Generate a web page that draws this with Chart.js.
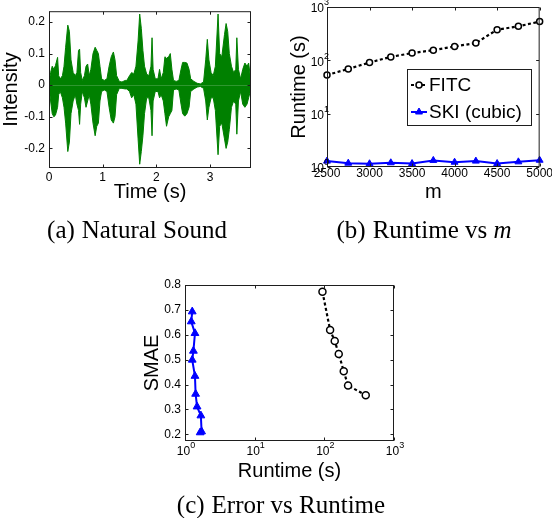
<!DOCTYPE html>
<html>
<head>
<meta charset="utf-8">
<script src="https://cdn.jsdelivr.net/npm/chart.js@4.4.1/dist/chart.umd.min.js"></script>
<style>
body { margin: 0; background: #fff; }
#wrap { position: relative; width: 552px; height: 518px; overflow: hidden; }
canvas { position: absolute; left: 0; top: 0; }
.cap { position: absolute; font-family: "Liberation Serif", serif; font-size: 25px; white-space: nowrap; transform: translate(-50%, -50%); color: #000; }
.cap span { margin-left: 7px; }
</style>
</head>
<body>
<div id="wrap">
  <canvas id="chartA" width="552" height="518"></canvas>
  <canvas id="chartB" width="552" height="518"></canvas>
  <canvas id="chartC" width="552" height="518"></canvas>
  <div class="cap" style="left:137px;top:230px">(a)<span>Natural Sound</span></div>
  <div class="cap" style="left:424px;top:230px">(b)<span>Runtime vs <i>m</i></span></div>
  <div class="cap" style="left:281px;top:505px">(c)<span>Error vs Runtime</span></div>
</div>
<script>
// (a) sound envelope
const soundTime = [0.00,0.03,0.06,0.09,0.12,0.16,0.18,0.21,0.25,0.28,
  0.31,0.35,0.38,0.41,0.45,0.49,0.52,0.55,0.57,0.59,
  0.62,0.66,0.69,0.72,0.75,0.78,0.82,0.86,0.89,0.92,
  0.95,0.98,1.03,1.08,1.12,1.16,1.20,1.23,1.26,1.31,
  1.36,1.42,1.45,1.50,1.54,1.58,1.62,1.66,1.69,1.72,
  1.75,1.78,1.82,1.86,1.90,1.92,1.94,1.98,2.03,2.06,
  2.09,2.13,2.16,2.19,2.23,2.26,2.29,2.32,2.37,2.42,
  2.46,2.49,2.53,2.57,2.61,2.64,2.70,2.76,2.82,2.88,
  2.92,2.95,2.98,3.02,3.06,3.10,3.15,3.18,3.22,3.27,
  3.30,3.33,3.36,3.40,3.44,3.48,3.50,3.53,3.57,3.61,
  3.65,3.69,3.72,3.75];
const soundUpper = [0.005,0.04,0.06,0.05,0.062,0.088,0.03,0.02,0.03,0.06,
  0.12,0.19,0.17,0.08,0.04,0.03,0.04,0.11,0.114,0.04,
  0.015,0.03,0.06,0.067,0.03,0.05,0.10,0.12,0.11,0.10,
  0.06,0.02,0.015,0.02,0.06,0.09,0.105,0.08,0.03,0.012,
  0.01,0.015,0.015,0.03,0.04,0.035,0.06,0.14,0.225,0.18,
  0.11,0.06,0.035,0.03,0.06,0.15,0.05,0.02,0.02,0.05,
  0.02,0.04,0.09,0.085,0.09,0.10,0.05,0.015,0.012,0.015,
  0.05,0.072,0.072,0.07,0.05,0.02,0.012,0.006,0.004,0.01,
  0.08,0.145,0.08,0.04,0.03,0.06,0.225,0.10,0.09,0.16,
  0.195,0.17,0.10,0.06,0.04,0.05,0.15,0.05,0.02,0.05,
  0.07,0.06,0.07,0.03];
const soundLower = [-0.005,-0.05,-0.09,-0.10,-0.095,-0.07,-0.03,-0.02,-0.04,-0.07,
  -0.12,-0.21,-0.18,-0.09,-0.05,-0.03,-0.06,-0.08,-0.124,-0.06,
  -0.02,-0.04,-0.07,-0.05,-0.03,-0.06,-0.12,-0.16,-0.13,-0.12,
  -0.05,-0.02,-0.015,-0.02,-0.07,-0.11,-0.12,-0.10,-0.03,-0.01,
  -0.01,-0.012,-0.012,-0.02,-0.04,-0.03,-0.06,-0.17,-0.25,-0.21,
  -0.16,-0.09,-0.04,-0.04,-0.08,-0.16,-0.05,-0.02,-0.02,-0.04,
  -0.03,-0.05,-0.09,-0.13,-0.10,-0.09,-0.08,-0.015,-0.012,-0.015,
  -0.06,-0.09,-0.098,-0.09,-0.07,-0.02,-0.012,-0.006,-0.004,-0.01,
  -0.05,-0.11,-0.07,-0.04,-0.04,-0.08,-0.22,-0.13,-0.12,-0.17,
  -0.20,-0.18,-0.14,-0.07,-0.05,-0.06,-0.155,-0.05,-0.02,-0.06,
  -0.07,-0.06,-0.04,-0.02];

// (b) runtime vs m
const mValues = [2500,2750,3000,3250,3500,3750,4000,4250,4500,4750,5000];
const fitcRuntime = [53,69,91,116,137,155,182,211,376,434,533];
const skiRuntime = [1.29,1.18,1.15,1.20,1.16,1.33,1.23,1.29,1.16,1.25,1.34];

// (c) error vs runtime
const fitcErrTime = [94,121,141,161,190,219,393];
const fitcSmae = [0.773,0.619,0.575,0.523,0.453,0.396,0.357];
const skiErrTime = [1.27,1.23,1.39,1.32,1.27,1.39,1.42,1.49,1.69,1.73,1.65];
const skiSmae = [0.693,0.653,0.606,0.535,0.499,0.434,0.362,0.311,0.275,0.211,0.207];

const logTicks = [1,10,100,1000];
const sans = '"Liberation Sans", Arial, sans-serif';

function pairs(xs, ys) { return xs.map((v, i) => ({x: v, y: ys[i]})); }

function drawPow(ctx, x, y, exp, mode) {
  ctx.font = '12px ' + sans;
  const wb = ctx.measureText('10').width;
  ctx.font = '9px ' + sans;
  const we = ctx.measureText(exp).width;
  const left = mode === 'right' ? x - wb : x - (wb + we) / 2;
  ctx.textAlign = 'left';
  ctx.textBaseline = 'middle';
  ctx.fillStyle = '#000';
  ctx.font = '12px ' + sans;
  ctx.fillText('10', left, y);
  ctx.font = '9px ' + sans;
  ctx.fillText(exp, left + wb, y - 6);
}

// matlab-like box, inward ticks, power labels, axis titles
const framePlugin = {
  id: 'frame',
  afterDraw(chart, args, o) {
    const ctx = chart.ctx, a = chart.chartArea, xs = chart.scales.x, ys = chart.scales.y;
    const L = a.left + 0.5, R = a.right - 0.5, T = a.top + 0.5, B = a.bottom - 0.5;
    ctx.save();
    ctx.strokeStyle = '#1e1e1e';
    ctx.lineWidth = 1;
    ctx.beginPath();
    xs.ticks.forEach(t => {
      const p = Math.round(xs.getPixelForValue(t.value)) + 0.5;
      ctx.moveTo(p, B); ctx.lineTo(p, B - 3);
      ctx.moveTo(p, T); ctx.lineTo(p, T + 3);
    });
    ys.ticks.forEach(t => {
      const p = Math.round(ys.getPixelForValue(t.value)) + 0.5;
      ctx.moveTo(L, p); ctx.lineTo(L + 3, p);
      ctx.moveTo(R, p); ctx.lineTo(R - 3, p);
    });
    ctx.stroke();
    ctx.strokeRect(L, T, R - L, B - T);

    if (o.logY) {
      ys.ticks.forEach(t => drawPow(ctx, a.left - 3, ys.getPixelForValue(t.value) + 2, String(Math.round(Math.log10(t.value))), 'right'));
    }
    if (o.logX) {
      xs.ticks.forEach(t => drawPow(ctx, xs.getPixelForValue(t.value) + 1, a.bottom + 11, String(Math.round(Math.log10(t.value))), 'center'));
    }

    ctx.fillStyle = '#000';
    ctx.font = '20px ' + sans;
    ctx.textAlign = 'center';
    ctx.textBaseline = 'middle';
    ctx.fillText(o.xTitle, (a.left + a.right) / 2, o.xTitleY);
    ctx.translate(o.yTitleX, (a.top + a.bottom) / 2);
    ctx.rotate(-Math.PI / 2);
    ctx.fillText(o.yTitle, 0, 0);
    ctx.restore();
  }
};

// legend box drawn inside the plot of (b)
const boxLegend = {
  id: 'boxLegend',
  afterDraw(chart, args, o) {
    if (!o.show) return;
    const ctx = chart.ctx;
    ctx.save();
    ctx.fillStyle = '#fff';
    ctx.strokeStyle = '#1e1e1e';
    ctx.lineWidth = 1;
    ctx.fillRect(o.x, o.y, o.w, o.h);
    ctx.strokeRect(o.x + 0.5, o.y + 0.5, o.w, o.h);
    chart.data.datasets.forEach((ds, i) => {
      const yy = o.rows[i];
      ctx.save();
      ctx.strokeStyle = ds.borderColor;
      ctx.lineWidth = ds.borderWidth;
      ctx.setLineDash(ds.borderDash || []);
      ctx.beginPath();
      ctx.moveTo(o.x + 4, yy);
      ctx.lineTo(o.x + 20, yy);
      ctx.stroke();
      ctx.restore();
      ctx.fillStyle = ds.pointBackgroundColor;
      ctx.strokeStyle = ds.borderColor;
      ctx.lineWidth = ds.pointBorderWidth;
      Chart.helpers.drawPoint(ctx, {pointStyle: ds.pointStyle, radius: ds.pointRadius, rotation: 0, borderWidth: ds.pointBorderWidth}, o.x + 12, yy);
      ctx.fillStyle = '#000';
      ctx.font = '19px ' + sans;
      ctx.textAlign = 'left';
      ctx.textBaseline = 'middle';
      ctx.fillText(ds.label, o.x + 22, yy + 1);
    });
    ctx.restore();
  }
};

// fixed axis sizes so the plot boxes land where the reference has them
function fitH(h) { return s => { s.height = h; }; }
function fitW(w) { return s => { s.width = w; }; }
const tickFont = {family: sans, size: 12};

// (a) Natural Sound
new Chart(document.getElementById('chartA'), {
  type: 'line',
  data: {
    datasets: [
      {data: pairs(soundTime, soundUpper), fill: 'origin', borderColor: 'rgb(0,128,0)', backgroundColor: 'rgb(0,128,0)', borderWidth: 1, pointRadius: 0, tension: 0},
      {data: pairs(soundTime, soundLower), fill: 'origin', borderColor: 'rgb(0,128,0)', backgroundColor: 'rgb(0,128,0)', borderWidth: 1, pointRadius: 0, tension: 0}
    ]
  },
  options: {
    responsive: false,
    animation: false,
    layout: {padding: {left: 9, top: 8, right: 301, bottom: 330}},
    plugins: {
      legend: {display: false},
      tooltip: {enabled: false},
      frame: {xTitle: 'Time (s)', xTitleY: 192, yTitle: 'Intensity', yTitleX: 11}
    },
    scales: {
      x: {
        type: 'linear', min: 0, max: 3.764,
        grid: {display: false, drawTicks: false}, border: {display: false},
        ticks: {stepSize: 1, includeBounds: false, padding: 2, color: '#000', font: tickFont, maxRotation: 0},
        afterFit: fitH(20)
      },
      y: {
        min: -0.262, max: 0.234,
        grid: {display: false, drawTicks: false}, border: {display: false},
        ticks: {stepSize: 0.1, includeBounds: false, padding: 4, color: '#000', font: tickFont,
          callback: v => Math.abs(v) < 1e-9 ? '0' : v.toFixed(1)},
        afterFit: fitW(40)
      }
    }
  },
  plugins: [framePlugin]
});

// (b) Runtime vs m
new Chart(document.getElementById('chartB'), {
  type: 'line',
  data: {
    datasets: [
      {label: 'FITC', data: pairs(mValues, fitcRuntime), borderColor: '#000', borderWidth: 2.2, borderDash: [3, 2.5],
        pointStyle: 'circle', pointRadius: 3, pointBorderWidth: 1.5, pointBackgroundColor: '#fff', clip: false, tension: 0},
      {label: 'SKI (cubic)', data: pairs(mValues, skiRuntime), borderColor: 'rgb(0,0,255)', borderWidth: 2,
        pointStyle: 'triangle', pointRadius: 4, pointBorderWidth: 1, pointBackgroundColor: 'rgb(0,0,255)', clip: false, tension: 0}
    ]
  },
  options: {
    responsive: false,
    animation: false,
    layout: {padding: {left: 327, top: 7, right: 12, bottom: 331}},
    plugins: {
      legend: {display: false},
      tooltip: {enabled: false},
      frame: {xTitle: 'm', xTitleY: 192, yTitle: 'Runtime (s)', yTitleX: 299, logY: true},
      boxLegend: {show: true, x: 407, y: 69, w: 124, h: 56, rows: [85, 112]}
    },
    scales: {
      x: {
        type: 'linear', min: 2500, max: 5000,
        grid: {display: false, drawTicks: false}, border: {display: false},
        ticks: {stepSize: 500, includeBounds: false, padding: -1, color: '#000', font: tickFont, maxRotation: 0,
          callback: v => String(v)},
        afterFit: fitH(20)
      },
      y: {
        type: 'logarithmic', min: 1, max: 1000,
        grid: {display: false, drawTicks: false}, border: {display: false},
        ticks: {display: false},
        afterBuildTicks: s => { s.ticks = logTicks.map(v => ({value: v})); },
        afterFit: fitW(0)
      }
    }
  },
  plugins: [framePlugin, boxLegend]
});

// (c) Error vs Runtime
new Chart(document.getElementById('chartC'), {
  type: 'line',
  data: {
    datasets: [
      {label: 'FITC', data: pairs(fitcErrTime, fitcSmae), borderColor: '#000', borderWidth: 2.2, borderDash: [3, 2.5],
        pointStyle: 'circle', pointRadius: 3.5, pointBorderWidth: 1.5, pointBackgroundColor: '#fff', clip: false, tension: 0},
      {label: 'SKI (cubic)', data: pairs(skiErrTime, skiSmae), borderColor: 'rgb(0,0,255)', borderWidth: 2,
        pointStyle: 'triangle', pointRadius: 4.5, pointBorderWidth: 1, pointBackgroundColor: 'rgb(0,0,255)', clip: false, tension: 0}
    ]
  },
  options: {
    responsive: false,
    animation: false,
    layout: {padding: {left: 155, top: 285, right: 158, bottom: 77}},
    plugins: {
      legend: {display: false},
      tooltip: {enabled: false},
      frame: {xTitle: 'Runtime (s)', xTitleY: 471, yTitle: 'SMAE', yTitleX: 152, logX: true}
    },
    scales: {
      x: {
        type: 'logarithmic', min: 1, max: 1000,
        grid: {display: false, drawTicks: false}, border: {display: false},
        ticks: {display: false},
        afterBuildTicks: s => { s.ticks = logTicks.map(v => ({value: v})); },
        afterFit: fitH(0)
      },
      y: {
        min: 0.173, max: 0.8,
        grid: {display: false, drawTicks: false}, border: {display: false},
        ticks: {stepSize: 0.1, includeBounds: false, padding: 4, color: '#000', font: tickFont,
          callback: v => v.toFixed(1)},
        afterFit: fitW(30)
      }
    }
  },
  plugins: [framePlugin]
});
</script>
</body>
</html>
